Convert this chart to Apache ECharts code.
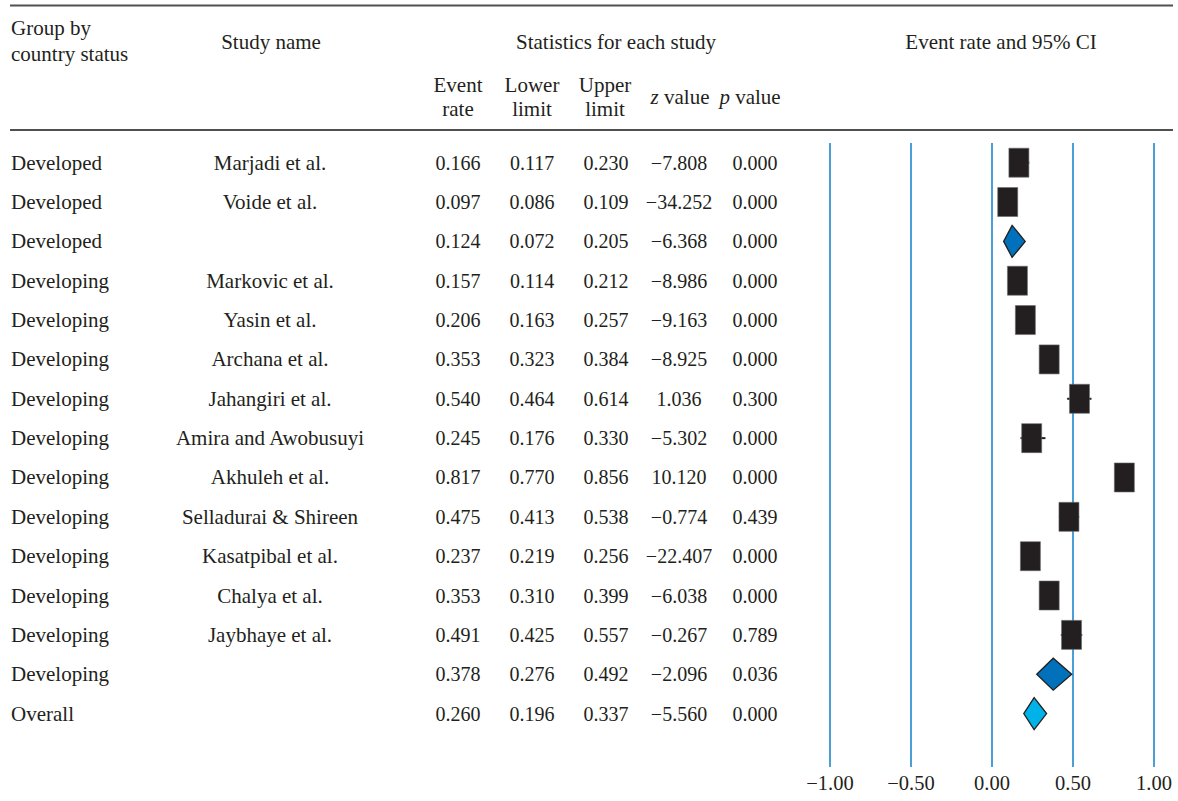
<!DOCTYPE html>
<html>
<head>
<meta charset="utf-8">
<script src="https://cdn.jsdelivr.net/npm/echarts@6/dist/echarts.min.js"></script>
<style>
  html, body { margin: 0; padding: 0; background: #ffffff; }
  #chart { width: 1178px; height: 801px; }
</style>
</head>
<body>
<div id="chart"></div>
<script>
// ---------------- DATA ----------------
const groups = ['Developed', 'Developed', 'Developed', 'Developing', 'Developing', 'Developing',
  'Developing', 'Developing', 'Developing', 'Developing', 'Developing', 'Developing',
  'Developing', 'Developing', 'Overall'];
const studies = ['Marjadi et al.', 'Voide et al.', '', 'Markovic et al.', 'Yasin et al.',
  'Archana et al.', 'Jahangiri et al.', 'Amira and Awobusuyi', 'Akhuleh et al.',
  'Selladurai & Shireen', 'Kasatpibal et al.', 'Chalya et al.', 'Jaybhaye et al.', '', ''];
const rowKind = ['study', 'study', 'subtotal', 'study', 'study', 'study', 'study', 'study',
  'study', 'study', 'study', 'study', 'study', 'subtotal', 'overall'];
const eventRate = [0.166, 0.097, 0.124, 0.157, 0.206, 0.353, 0.540, 0.245, 0.817, 0.475, 0.237, 0.353, 0.491, 0.378, 0.260];
const lowerLimit = [0.117, 0.086, 0.072, 0.114, 0.163, 0.323, 0.464, 0.176, 0.770, 0.413, 0.219, 0.310, 0.425, 0.276, 0.196];
const upperLimit = [0.230, 0.109, 0.205, 0.212, 0.257, 0.384, 0.614, 0.330, 0.856, 0.538, 0.256, 0.399, 0.557, 0.492, 0.337];
const zValue = [-7.808, -34.252, -6.368, -8.986, -9.163, -8.925, 1.036, -5.302, 10.120, -0.774, -22.407, -6.038, -0.267, -2.096, -5.560];
const pValue = [0.000, 0.000, 0.000, 0.000, 0.000, 0.000, 0.300, 0.000, 0.000, 0.439, 0.000, 0.000, 0.789, 0.036, 0.000];
const xTickMin = -1.0;
const xTickMax = 1.0;
const xTickStep = 0.5;

// ---------------- STYLE / LAYOUT ----------------
const FONT = '"Liberation Serif", "Times New Roman", serif';
const FS_TEXT = 21;
const FS_NUM = 20;
const FS_AXIS = 20.5;
const INK = '#231f20';
const RULE = '#505050';
const GRID_LINE = '#1f86cc';
const SUB_BLUE = '#0071ba';
const ALL_BLUE = '#00b2ea';
const TOP = 143;
const ROW_H = 39.35;
const FOREST_BOTTOM = 767;
const nRows = eventRate.length;

function fmt(v) { return v.toFixed(3).replace('-', '\u2212'); }

const columns = [
  { texts: groups, x: 11, align: 'left', fs: FS_TEXT },
  { texts: studies, x: 270, align: 'center', fs: FS_TEXT },
  { texts: eventRate.map(fmt), x: 458, align: 'center', fs: FS_NUM },
  { texts: lowerLimit.map(fmt), x: 532, align: 'center', fs: FS_NUM },
  { texts: upperLimit.map(fmt), x: 606, align: 'center', fs: FS_NUM },
  { texts: zValue.map(fmt), x: 679, align: 'center', fs: FS_NUM },
  { texts: pValue.map(fmt), x: 755, align: 'center', fs: FS_NUM }
];

const grids = [], xAxes = [], yAxes = [];
const rowIds = eventRate.map((_, i) => String(i));

columns.forEach((col, ci) => {
  grids.push({ left: col.x, top: TOP, width: 2, height: ROW_H * nRows });
  xAxes.push({ gridIndex: ci, type: 'value', show: false });
  yAxes.push({
    gridIndex: ci, type: 'category', inverse: true, data: rowIds,
    axisLine: { show: false }, axisTick: { show: false }, splitLine: { show: false },
    axisLabel: {
      interval: 0, margin: 0, align: col.align, verticalAlign: 'middle',
      fontFamily: FONT, fontSize: col.fs, color: INK,
      formatter: (v, idx) => col.texts[idx]
    }
  });
});

// forest plot grid
const fi = columns.length;
grids.push({ left: 830, width: 324, top: TOP, height: FOREST_BOTTOM - TOP });
xAxes.push({
  gridIndex: fi, type: 'value', min: xTickMin, max: xTickMax, interval: xTickStep,
  axisLine: { show: false }, axisTick: { show: false },
  splitLine: { show: true, lineStyle: { color: GRID_LINE, width: 1.6 } },
  axisLabel: {
    margin: 5, fontFamily: FONT, fontSize: FS_AXIS, color: INK,
    formatter: v => v.toFixed(2).replace('-', '\u2212')
  }
});
yAxes.push({
  gridIndex: fi, type: 'value', inverse: true, show: false,
  min: -0.5, max: (FOREST_BOTTOM - TOP) / ROW_H - 0.5,
  splitLine: { show: false }
});

const forestData = eventRate.map((r, i) => [r, i, lowerLimit[i], upperLimit[i]]);

function renderForest(params, api) {
  const row = api.value(1);
  const c = api.coord([api.value(0), row]);
  const l = api.coord([api.value(2), row]);
  const u = api.coord([api.value(3), row]);
  const kind = rowKind[params.dataIndex];
  if (kind === 'study') {
    return {
      type: 'group', children: [
        { type: 'line', shape: { x1: l[0], y1: c[1], x2: u[0], y2: c[1] }, style: { stroke: INK, lineWidth: 2 } },
        { type: 'rect', shape: { x: c[0] - 10, y: c[1] - 14.5, width: 20, height: 29 }, style: { fill: INK, stroke: '#6a6a6a', lineWidth: 0.6 } }
      ]
    };
  }
  return {
    type: 'polygon',
    shape: { points: [[l[0], c[1]], [c[0], c[1] - 16], [u[0], c[1]], [c[0], c[1] + 16]] },
    style: { fill: kind === 'overall' ? ALL_BLUE : SUB_BLUE, stroke: INK, lineWidth: 1.3 }
  };
}

function txt(text, x, y, align, extra) {
  return {
    type: 'text', x: x, y: y, silent: true,
    style: Object.assign({
      text: text, align: align || 'center', verticalAlign: 'middle',
      fontFamily: FONT, fontSize: FS_TEXT, fill: INK
    }, extra || {})
  };
}
const italicRich = { i: { fontStyle: 'italic', fontFamily: FONT, fontSize: FS_TEXT, fill: INK } };

const graphics = [
  { type: 'line', shape: { x1: 10, y1: 5.5, x2: 1173, y2: 5.5 }, style: { stroke: RULE, lineWidth: 2 } },
  { type: 'line', shape: { x1: 10, y1: 130, x2: 1173, y2: 130 }, style: { stroke: RULE, lineWidth: 2 } },
  txt('Group by', 11, 28, 'left'),
  txt('country status', 11, 54, 'left'),
  txt('Study name', 271, 42),
  txt('Statistics for each study', 616, 42),
  txt('Event rate and 95% CI', 1001, 42),
  txt('Event', 458, 85), txt('rate', 458, 109),
  txt('Lower', 532, 85), txt('limit', 532, 109),
  txt('Upper', 605, 85), txt('limit', 605, 109),
  txt('{i|z} value', 680, 97, 'center', { rich: italicRich }),
  txt('{i|p} value', 750, 97, 'center', { rich: italicRich })
];

const chart = echarts.init(document.getElementById('chart'), null, { renderer: 'svg' });
chart.setOption({
  backgroundColor: '#ffffff',
  animation: false,
  grid: grids,
  xAxis: xAxes,
  yAxis: yAxes,
  graphic: graphics,
  series: [{
    type: 'custom', xAxisIndex: fi, yAxisIndex: fi,
    data: forestData, renderItem: renderForest, clip: false
  }]
});
</script>
</body>
</html>
